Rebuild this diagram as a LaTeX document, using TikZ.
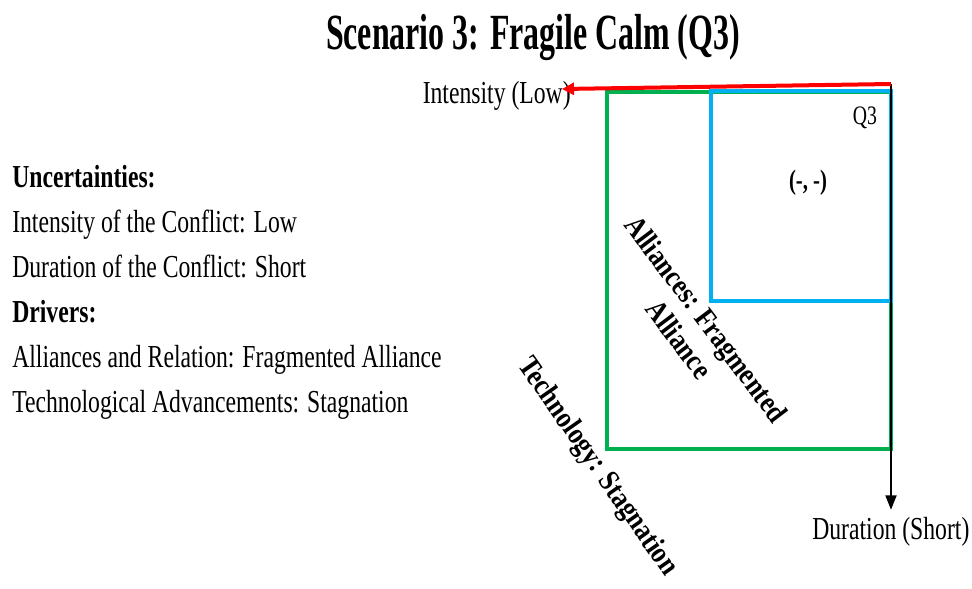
\documentclass[tikz,border=0pt]{standalone}
\usepackage{fontspec}
\setmainfont[FakeStretch=0.74]{Liberation Serif}
\newfontfamily\titlefont[FakeStretch=0.63]{Liberation Serif}
\newfontfamily\diagfont[FakeStretch=0.85]{Liberation Serif}
\usetikzlibrary{arrows.meta}
\definecolor{pgreen}{RGB}{0,176,80}
\definecolor{pblue}{RGB}{0,176,240}
\definecolor{pred}{RGB}{255,0,0}
\tikzset{
  bodytext/.style={inner sep=0pt, font=\fontsize{24}{34}\selectfont},
  diagtext/.style={inner sep=0pt, align=center, font=\diagfont\bfseries\fontsize{22.5}{25.5}\selectfont},
  axisred/.style={draw=pred, line width=3pt, -{Triangle[length=9pt,width=9pt]}},
  axisblack/.style={draw=black, line width=2.1pt, -{Triangle[length=11pt,width=8pt]}},
  boxgreen/.style={draw=pgreen, line width=2.5pt},
  boxblue/.style={draw=pblue, line width=2.5pt},
}
\begin{document}
\begin{tikzpicture}[x=0.75pt,y=-0.75pt]
\useasboundingbox (0,0) rectangle (972,589);
% title
\node[inner sep=0pt, anchor=base, font=\titlefont\bfseries\fontsize{38}{40}\selectfont] (title) at (533,50) {Scenario 3: Fragile Calm (Q3)};
% left text
\node[bodytext, anchor=base west, font=\bfseries\fontsize{24}{34}\selectfont] (unc) at (12,187) {Uncertainties:};
\node[bodytext, anchor=base west] (int) at (12,232) {Intensity of the Conflict: Low};
\node[bodytext, anchor=base west] (dur) at (12,277) {Duration of the Conflict: Short};
\node[bodytext, anchor=base west, font=\bfseries\fontsize{24}{34}\selectfont] (drv) at (12,322) {Drivers:};
\node[bodytext, anchor=base west] (all) at (12,367) {Alliances and Relation: Fragmented Alliance};
\node[bodytext, anchor=base west] (tech) at (12,412) {Technological Advancements: Stagnation};
% boxes
\draw[boxgreen] (607,92) rectangle (891,449);
\draw[boxblue] (711,91) rectangle (891,301);
% axes
\coordinate (origin) at (891,84);
\coordinate (lowend) at (562,89);
\coordinate (shortend) at (891,510);
\draw[axisblack] (origin) -- (shortend);
\node[bodytext, anchor=base east] (intlab) at (571,103) {Intensity (Low)};
\draw[axisred] (origin) -- (lowend);
\node[bodytext, anchor=base west] (durlab) at (812,539) {Duration (Short)};
% quadrant labels
\node[inner sep=0pt, font=\fontsize{20}{22}\selectfont] (q3) at (865,118) {Q3};
\node[inner sep=0pt, font=\bfseries\fontsize{21}{22}\selectfont] (sign) at (808,183) {(-, -)};
% diagonal labels
\node[diagtext, rotate=-53] (alliance) at (693,329) {Alliances: Fragmented\\Alliance};
\node[diagtext, rotate=-55] (technology) at (597,467) {Technology: Stagnation};
\end{tikzpicture}
\end{document}
